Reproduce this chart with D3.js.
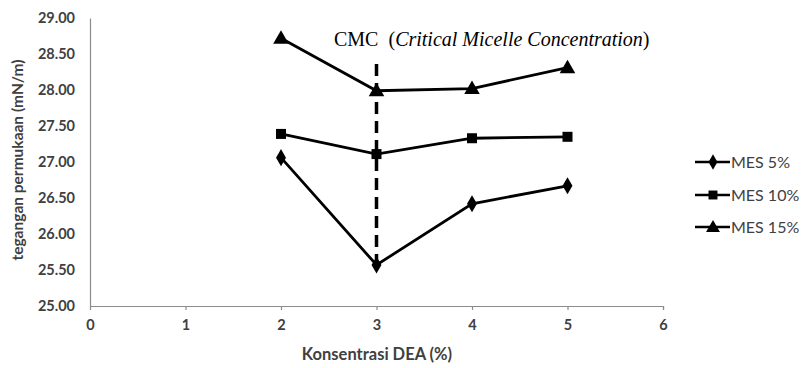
<!DOCTYPE html>
<html><head><meta charset="utf-8">
<script src="https://cdn.jsdelivr.net/npm/d3@7"></script>
<style>body{margin:0;background:#fff}svg{display:block}</style>
</head><body>
<svg id="c" width="803" height="368"></svg>
<script>
const xValues = [2, 3, 4, 5];
const mes5 = [27.06, 25.57, 26.42, 26.67];
const mes10 = [27.39, 27.11, 27.33, 27.35];
const mes15 = [28.72, 27.99, 28.02, 28.31];
const seriesNames = ["MES 5%", "MES 10%", "MES 15%"];
const xTicks = [0, 1, 2, 3, 4, 5, 6];
const yTicks = [25, 25.5, 26, 26.5, 27, 27.5, 28, 28.5, 29];
const cmcX = 3;
const cmcLabel = ["CMC\u00a0 (", "Critical Micelle Concentration", ")"];

const svg = d3.select("#c");
const x = d3.scaleLinear().domain([0, 6]).range([90, 663]);
const y = d3.scaleLinear().domain([25, 29]).range([306, 18]);
const font = "Lato, 'Open Sans', sans-serif";
const txt = "#404040";

// axes
const xa = svg.append("g").attr("transform", `translate(0,${y(25)})`)
  .call(d3.axisBottom(x).tickValues(xTicks).tickFormat(d3.format("d")).tickSize(4).tickPadding(8));
const ya = svg.append("g").attr("transform", `translate(${x(0)},0)`)
  .call(d3.axisLeft(y).tickValues(yTicks).tickFormat(d3.format(".2f")).tickSize(0).tickPadding(15));
[xa, ya].forEach(a => {
  a.select(".domain").attr("stroke", "#8c8c8c").attr("stroke-width", 1.2);
  a.selectAll(".tick line").attr("stroke", "#8c8c8c").attr("stroke-width", 1.2);
  a.selectAll("text").attr("font-family", font).attr("font-size", 14.5).attr("font-weight", "bold").attr("fill", txt);
});
xa.selectAll("text").attr("dy", "0.8em");
xa.select(".tick line").attr("y2", 0);

// axis titles
svg.append("text").attr("x", 377).attr("y", 360).attr("text-anchor", "middle")
  .attr("font-family", font).attr("font-size", 16.5).attr("font-weight", "bold").attr("fill", txt)
  .text("Konsentrasi DEA (%)");
svg.append("text").attr("transform", `translate(23,160) rotate(-90)`).attr("text-anchor", "middle")
  .attr("font-family", font).attr("font-size", 15.5).attr("font-weight", "bold").attr("fill", txt)
  .text("tegangan permukaan (mN/m)");

// CMC dashed line
svg.append("line").attr("x1", x(cmcX)).attr("x2", x(cmcX)).attr("y1", y(28.36)).attr("y2", y(mes5[1]))
  .attr("stroke", "#000").attr("stroke-width", 3.5).attr("stroke-dasharray", "12,7");

const t = svg.append("text").attr("x", 334).attr("y", 46)
  .attr("font-family", "'Liberation Serif', 'Times New Roman', serif").attr("font-size", 20).attr("fill", "#000");
t.append("tspan").text(cmcLabel[0]);
t.append("tspan").attr("font-style", "italic").text(cmcLabel[1]);
t.append("tspan").text(cmcLabel[2]);

const data = [mes5, mes10, mes15];
const symbols = [d3.symbolDiamond, d3.symbolSquare, d3.symbolTriangle];
const sizes = [85, 100, 105];
const line = d3.line().x((d, i) => x(xValues[i])).y(d => y(d));

data.forEach((s, k) => {
  svg.append("path").datum(s).attr("d", line).attr("fill", "none").attr("stroke", "#000").attr("stroke-width", 2.8);
  svg.selectAll(null).data(s).enter().append("path")
    .attr("transform", (d, i) => `translate(${x(xValues[i])},${y(d) + (k === 2 ? 1 : 0)})`)
    .attr("d", d3.symbol().type(symbols[k]).size(sizes[k])).attr("fill", "#000");
});

// legend
const ly = [162, 195, 227];
seriesNames.forEach((n, k) => {
  const g = svg.append("g").attr("transform", `translate(695,${ly[k]})`);
  g.append("line").attr("x1", 0).attr("x2", 35).attr("stroke", "#000").attr("stroke-width", 2.5);
  g.append("path").attr("transform", `translate(18,${k === 2 ? 1 : 0})`)
    .attr("d", d3.symbol().type(symbols[k]).size(sizes[k] * 0.8)).attr("fill", "#000");
  g.append("text").attr("x", 36).attr("y", 0).attr("dy", "0.35em")
    .attr("font-family", font).attr("font-size", 16).attr("fill", txt).text(n);
});
</script>
</body></html>
